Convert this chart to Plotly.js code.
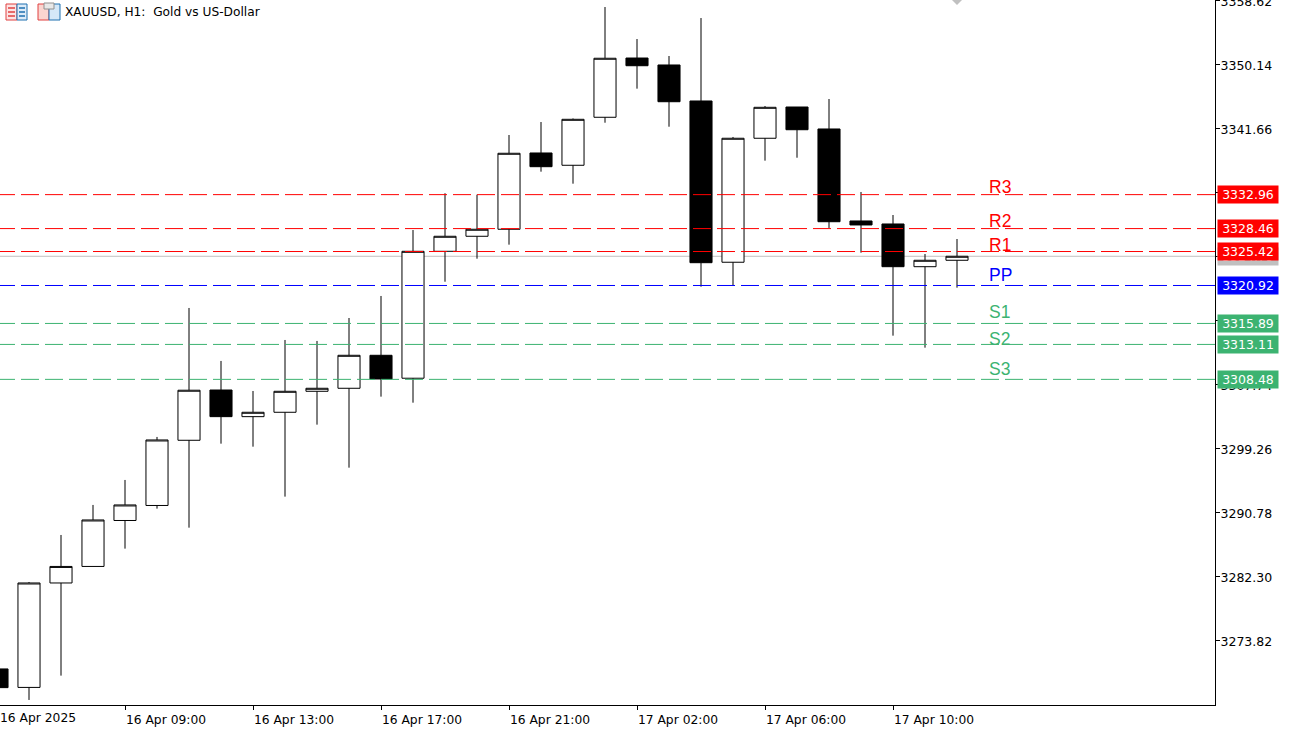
<!DOCTYPE html>
<html>
<head>
<meta charset="utf-8">
<script src="https://cdn.plot.ly/plotly-3.0.1.min.js"></script>
<style>html,body{margin:0;padding:0;background:#fff;overflow:hidden}</style>
</head>
<body>
<div id="myDiv" style="width:1293px;height:729px"></div>
<script>
var candleTimes = ['16 Apr 05:00','16 Apr 06:00','16 Apr 07:00','16 Apr 08:00','16 Apr 09:00','16 Apr 10:00','16 Apr 11:00','16 Apr 12:00','16 Apr 13:00','16 Apr 14:00','16 Apr 15:00','16 Apr 16:00','16 Apr 17:00','16 Apr 18:00','16 Apr 19:00','16 Apr 20:00','16 Apr 21:00','16 Apr 22:00','16 Apr 23:00','17 Apr 01:00','17 Apr 02:00','17 Apr 03:00','17 Apr 04:00','17 Apr 05:00','17 Apr 06:00','17 Apr 07:00','17 Apr 08:00','17 Apr 09:00','17 Apr 10:00','17 Apr 11:00','17 Apr 12:00'];
var opens = [3270.11,3267.66,3281.50,3283.69,3289.78,3291.77,3300.41,3307.07,3303.54,3304.12,3306.90,3307.30,3311.67,3308.63,3325.45,3327.44,3328.37,3338.48,3336.85,3343.21,3351.06,3350.14,3345.37,3324.00,3340.43,3344.57,3341.66,3329.47,3329.07,3323.41,3324.26];
var highs = [3270.40,3281.63,3287.86,3291.84,3295.15,3300.85,3317.94,3310.92,3306.94,3313.70,3313.57,3316.61,3319.53,3328.27,3333.14,3332.95,3340.86,3342.58,3343.05,3357.82,3353.58,3351.33,3356.36,3340.60,3344.70,3344.57,3345.63,3333.31,3330.26,3325.09,3327.08];
var lows = [3267.40,3266.00,3269.22,3283.69,3286.05,3291.35,3288.83,3299.96,3299.56,3292.94,3302.48,3296.78,3306.19,3305.39,3321.42,3324.47,3326.33,3336.00,3334.41,3342.49,3347.00,3341.96,3320.76,3320.95,3337.46,3337.85,3328.54,3325.27,3314.27,3312.68,3320.63];
var closes = [3267.63,3281.50,3283.69,3289.85,3291.84,3300.45,3307.04,3303.54,3304.12,3306.90,3307.30,3311.67,3308.53,3325.45,3327.44,3328.37,3338.44,3336.66,3342.94,3351.03,3350.04,3345.27,3323.94,3340.43,3344.53,3341.56,3329.37,3328.94,3323.41,3324.26,3324.79];

var pivotNames = ['R3','R2','R1','PP','S1','S2','S3'];
var pivotLevels = [3332.96,3328.46,3325.42,3320.92,3315.89,3313.11,3308.48];
var pivotLabelPrices = [3333.97,3329.47,3326.29,3322.31,3317.41,3313.83,3309.86];
var pivotColors = ['#FF0000','#FF0000','#FF0000','#0000FF','#3CB371','#3CB371','#3CB371'];
var lastPrice = 3324.79;

var priceTicks = [3358.62,3350.14,3341.66,3333.18,3324.70,3316.22,3307.74,3299.26,3290.78,3282.30,3273.82];
var timeTickIndex = [4,8,12,16,20,24,28];
var timeTickText = ['16 Apr 09:00','16 Apr 13:00','16 Apr 17:00','16 Apr 21:00','17 Apr 02:00','17 Apr 06:00','17 Apr 10:00'];
var firstDateLabel = '16 Apr 2025';

var FONT = 'DejaVu Sans, sans-serif';
var PLOT_W = 1215, PLOT_H = 705;

var trace = {
  type: 'candlestick',
  x: candleTimes.map(function (t, i) { return i; }),
  text: candleTimes,
  open: opens, high: highs, low: lows, close: closes,
  whiskerwidth: 0,
  increasing: {line: {color: '#000', width: 1}, fillcolor: '#fff'},
  decreasing: {line: {color: '#000', width: 1}, fillcolor: '#000'},
  showlegend: false
};

// pixel helpers for the chrome that is not data (toolbar icons)
function px(x) { return x / PLOT_W; }
function py(y) { return 1 - y / PLOT_H; }
function box(x0, y0, x1, y1, line, fill) {
  return {type: 'rect', xref: 'paper', yref: 'paper', x0: px(x0), x1: px(x1), y0: py(y0), y1: py(y1),
    line: {color: line, width: 1}, fillcolor: fill, layer: 'above'};
}

var shapes = [{
  type: 'line', xref: 'paper', yref: 'y', x0: 0, x1: 1, y0: lastPrice, y1: lastPrice,
  line: {color: '#C0C0C0', width: 1}, layer: 'below'
}];
pivotLevels.forEach(function (lvl, i) {
  shapes.push({
    type: 'line', xref: 'x', yref: 'y', x0: 0, x1: 38.1, y0: lvl, y1: lvl,
    line: {color: pivotColors[i], width: 1, dash: '18px,6px'}, layer: 'above'
  });
});
shapes.push(
  box(6, 4, 17, 20, '#E04040', '#FCE4E4'), box(17, 4, 27, 20, '#1F70B0', '#DCEBF8'),
  box(8, 8, 15, 8, '#E04040'), box(8, 12, 15, 12, '#E04040'), box(8, 16, 15, 16, '#E04040'),
  box(19, 8, 25, 8, '#1F70B0'), box(19, 12, 25, 12, '#1F70B0'), box(19, 16, 25, 16, '#1F70B0'),
  box(38, 4, 49, 20, '#E04040', '#FBD5D0'), box(49, 4, 60, 20, '#1F70B0', '#D5E8F8'),
  box(44, 3, 54, 9, '#909090', '#E8E8E8'),
  {type: 'path', xref: 'paper', yref: 'paper',
   path: 'M' + px(952) + ',1 L' + px(962) + ',1 L' + px(957) + ',' + py(5) + ' Z',
   fillcolor: '#C0C0C0', line: {width: 0}, layer: 'above'}
);

// the first date sits left of the plot edge's first tick, so the axis would drop it
var annotations = [{
  xref: 'paper', yref: 'paper', x: 0, y: 0, xanchor: 'left', yanchor: 'top', xshift: -2, yshift: -4,
  text: firstDateLabel, showarrow: false,
  font: {family: FONT, size: 12.3, color: '#000'}
}];
function priceTag(value, bg) {
  annotations.push({
    xref: 'paper', yref: 'y', x: 1217 / PLOT_W, y: value, xanchor: 'left', yanchor: 'middle',
    text: value.toFixed(2), showarrow: false, align: 'center',
    width: 58, height: 15, borderpad: 1, bgcolor: bg,
    font: {family: FONT, size: 12.5, color: '#fff'}
  });
}
priceTag(lastPrice, '#C0C0C0');
pivotLevels.forEach(function (lvl, i) {
  priceTag(lvl, pivotColors[i]);
  annotations.push({
    xref: 'paper', yref: 'y', x: 987 / PLOT_W, y: pivotLabelPrices[i], xanchor: 'left', yanchor: 'middle',
    text: pivotNames[i], showarrow: false,
    font: {family: 'Liberation Sans, sans-serif', size: 17.5, color: pivotColors[i]}
  });
});

var layout = {
  width: 1293,
  height: 729,
  margin: {l: 0, r: 78, t: 0, b: 24, pad: 0},
  paper_bgcolor: '#fff',
  plot_bgcolor: '#fff',
  showlegend: false,
  boxgap: 0.31,
  boxgroupgap: 0,
  title: {
    text: 'XAUUSD, H1:\u00A0 Gold vs US-Dollar',
    x: 65 / 1293, y: 1 - 12 / 729, xref: 'container', yref: 'container',
    xanchor: 'left', yanchor: 'middle',
    font: {family: FONT, size: 12.2, color: '#000'}
  },
  xaxis: {
    type: 'linear',
    range: [3 / 32, 1218 / 32],
    rangeslider: {visible: false},
    tickmode: 'array', tickvals: timeTickIndex, ticktext: timeTickText,
    ticks: 'outside', ticklen: 4, tickcolor: '#000', tickwidth: 1,
    ticklabelshift: 41, ticklabeloverflow: 'allow', ticklabelstandoff: -1,
    tickangle: 0,
    tickfont: {family: FONT, size: 12.3, color: '#000'},
    showgrid: false, zeroline: false, showline: true, linecolor: '#000', linewidth: 1
  },
  yaxis: {
    side: 'right',
    range: [3265.33, 3358.75],
    tickmode: 'array', tickvals: priceTicks,
    ticktext: priceTicks.map(function (p) { return p.toFixed(2); }),
    ticks: 'outside', ticklen: 4, tickcolor: '#000', tickwidth: 1,
    ticklabelstandoff: -2, ticklabeloverflow: 'allow', ticklabelshift: 1,
    tickfont: {family: FONT, size: 12.5, color: '#000'},
    showgrid: false, zeroline: false, showline: true, linecolor: '#000', linewidth: 1
  },
  shapes: shapes,
  annotations: annotations
};

Plotly.newPlot('myDiv', [trace], layout, {displayModeBar: false, staticPlot: true});
</script>
</body>
</html>
